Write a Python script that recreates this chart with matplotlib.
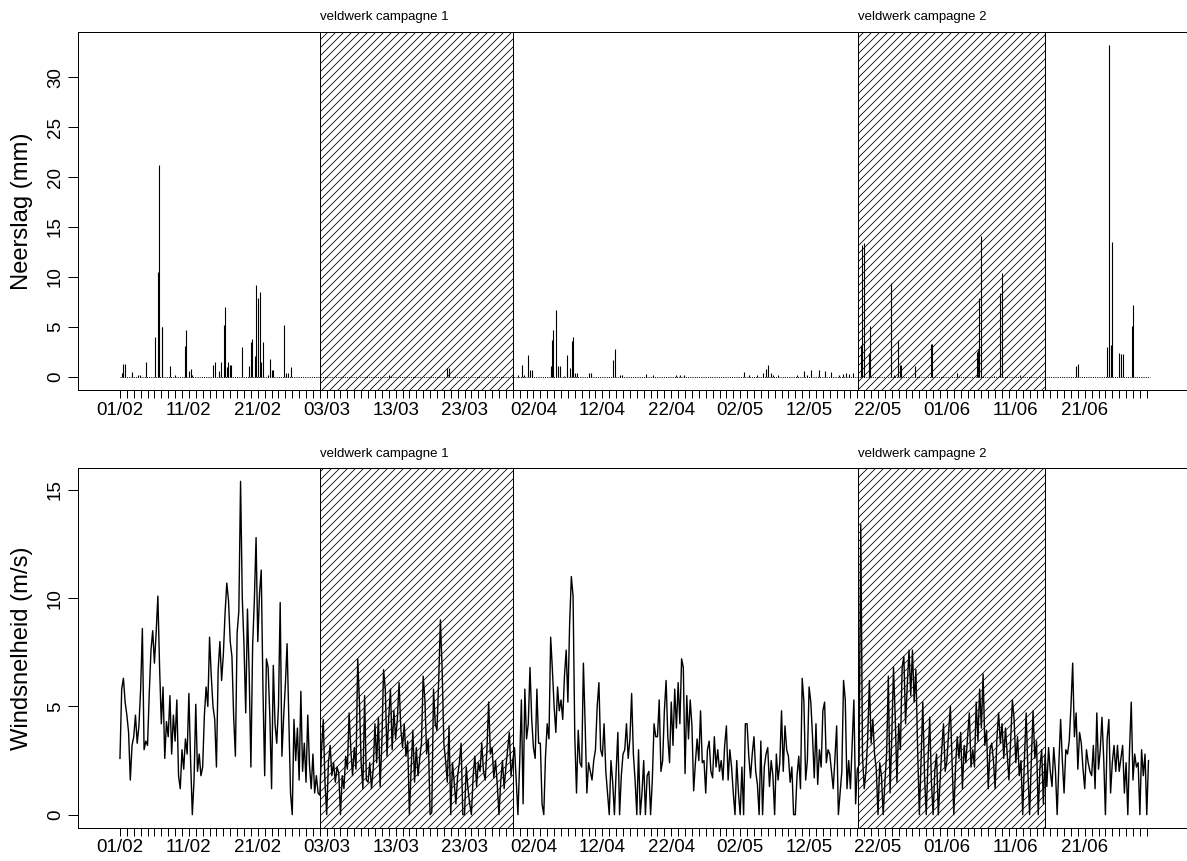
import numpy as np
import matplotlib
matplotlib.use('Agg')
import matplotlib.pyplot as plt
from matplotlib.transforms import blended_transform_factory

# =============================
# DATA (dag 0 = 01/02)
# =============================
tick_labels = ["01/02", "11/02", "21/02", "03/03", "13/03", "23/03", "02/04",
               "12/04", "22/04", "02/05", "12/05", "22/05", "01/06", "11/06", "21/06"]
tick_label_dag = [0, 10, 20, 30, 40, 50, 60, 70, 80, 90, 100, 110, 120, 130, 140]
laatste_dag = 149

campagnes = ["veldwerk campagne 1", "veldwerk campagne 2"]
campagne_start = [29.0, 107.1]
campagne_eind = [57.0, 134.2]

# neerslag (mm): tijdstip in dagen en hoeveelheid
neerslag_dag = [
    0.24, 0.44, 0.73, 1.74, 2.66, 2.91, 3.78, 5.14, 5.52, 5.67, 6.06, 6.15, 7.27, 7.99,
    9.49, 9.64, 9.98, 10.27, 10.51, 13.47, 13.81, 14.34, 14.73, 15.07, 15.21, 15.50, 15.70, 16.03, 16.18,
    17.78, 18.70, 19.00, 19.14, 19.53, 19.67, 19.96, 20.25, 20.44, 20.78, 21.41, 21.75, 22.04, 22.24, 23.79, 24.03, 24.32, 24.81,
    39.1, 47.5, 47.7, 57.8, 58.3, 58.7, 59.2, 59.5, 59.8, 62.5, 62.7, 62.9, 63.3, 63.6, 63.9,
    64.4, 64.8, 64.9, 65.3, 65.6, 65.8, 66.1, 66.3, 68.1, 68.3, 71.6, 71.9, 72.6, 72.8,
    76.3, 77.4, 80.7, 81.2, 81.9, 90.5, 91.3, 92.4, 93.3, 93.7, 94.0, 94.4, 94.8, 95.5,
    98.2, 99.3, 99.7, 100.3, 101.4, 102.3, 103.2, 104.4, 104.9, 105.4, 105.8, 106.3,
    107.5, 107.7, 107.9, 108.7, 108.9, 111.9, 112.3, 112.9, 113.2, 113.4, 115.4, 117.7, 117.9,
    121.5, 124.3, 124.5, 124.7, 125.0, 126.9, 127.7, 128.0, 130.6,
    138.7, 139.0, 143.3, 143.5, 143.8, 144.0, 145.0, 145.3, 145.5, 146.8, 147.0,
]
neerslag_mm = [
    0.4, 1.3, 1.3, 0.5, 0.2, 0.15, 1.5, 4.0, 10.5, 21.2, 5.0, 5.0, 1.1, 0.15,
    3.1, 4.7, 0.6, 0.8, 0.2, 1.2, 1.5, 0.6, 1.5, 5.2, 7.0, 1.0, 1.5, 1.2, 1.2,
    3.0, 1.1, 3.5, 3.8, 2.1, 9.2, 7.9, 8.5, 1.5, 3.5, 0.2, 1.8, 0.7, 0.7, 5.2, 0.4, 0.4, 1.0,
    0.2, 0.9, 0.9, 0.2, 1.2, 0.2, 2.2, 0.7, 0.7, 1.1, 3.7, 4.7, 6.7, 1.1, 1.1,
    0.1, 2.2, 0.5, 0.9, 3.6, 4.0, 0.4, 0.4, 0.4, 0.4, 1.7, 2.8, 0.15, 0.15,
    0.3, 0.2, 0.15, 0.15, 0.2, 0.5, 0.2, 0.2, 0.4, 0.8, 1.2, 0.4, 0.2, 0.2,
    0.2, 0.6, 0.2, 0.7, 0.7, 0.6, 0.5, 0.2, 0.3, 0.4, 0.3, 0.4,
    3.2, 13.2, 13.4, 2.4, 5.1, 9.4, 0.2, 3.7, 1.2, 1.2, 1.1, 3.3, 3.3,
    0.4, 2.5, 2.7, 7.9, 14.1, 0.1, 8.4, 10.4, 0.2,
    1.1, 1.3, 3.0, 33.2, 3.2, 13.5, 2.4, 2.3, 2.3, 5.1, 7.2,
]

# windsnelheid (m/s), 4 waarden per dag (elke 6 uur)
windsnelheid = [
    2.6, 5.8, 6.3, 5.2,  4.6, 3.8, 1.6, 3.2,  3.6, 4.6, 3.3, 4.1,  5.8, 8.6, 3.0, 3.4,  3.2, 5.6, 7.6, 8.5,
    7.0, 8.4, 10.1, 6.8,  4.2, 5.9, 2.6, 4.3,  3.6, 5.5, 2.8, 4.6,  3.4, 5.3, 1.8, 1.2,  3.0, 2.1, 3.5, 2.8,
    5.6, 2.5, 0.0, 1.6,  5.1, 2.0, 2.8, 1.8,  2.2, 4.6, 5.9, 5.0,  8.2, 6.4, 5.0, 4.4,  2.2, 6.7, 8.0, 6.2,
    7.4, 9.3, 10.7, 9.9,  8.0, 7.3, 4.5, 2.7,  8.4, 9.4, 15.4, 10.0,  7.8, 4.7, 9.5, 6.5,  2.2, 7.8, 9.9, 12.8,
    8.0, 10.2, 11.3, 5.8,  1.8, 7.2, 6.8, 4.5,  1.2, 6.9, 4.2, 3.3,  5.0, 9.8, 2.7, 4.5,  6.0, 7.9, 4.5, 1.0,
    0.0, 4.4, 2.5, 4.0,  1.6, 5.7, 2.0, 3.3,  1.5, 4.6, 2.3, 1.2,  2.8, 1.0, 1.8, 1.0,  0.9, 3.0, 4.4, 1.5,
    0.0, 2.4, 3.2, 1.8,  2.4, 1.5, 2.2, 1.9,  0.0, 1.8, 1.2, 2.7,  2.1, 4.7, 3.0, 1.8,  3.1, 2.1, 7.2, 5.2,
    2.4, 1.2, 5.5, 1.6,  1.5, 2.4, 1.2, 2.1,  4.2, 2.4, 4.5, 1.3,  3.3, 6.7, 5.8, 2.7,  4.5, 5.8, 3.0, 4.8,
    3.5, 4.4, 6.1, 4.0,  3.1, 4.2, 2.7, 3.4,  0.0, 2.1, 3.9, 1.5,  3.1, 1.8, 2.6, 3.3,  6.4, 5.3, 2.8, 3.5,
    0.0, 0.1, 5.8, 4.2,  3.9, 6.2, 9.0, 6.7,  3.3, 2.5, 1.5, 4.1,  0.0, 2.4, 1.5, 0.5,  1.8, 2.4, 3.3, 0.0,
    0.0, 2.2, 1.2, 0.5,  0.0, 1.8, 2.7, 1.3,  2.4, 2.0, 3.3, 2.0,  1.6, 3.0, 5.2, 2.8,  3.1, 1.7, 2.5, 1.4,
    0.0, 1.5, 2.5, 1.2,  2.2, 3.0, 3.8, 1.8,  2.5, 3.1, 1.6, 0.0,  2.4, 5.3, 0.5, 5.8,  3.5, 4.2, 6.8, 4.4,
    3.1, 2.6, 5.8, 3.3,  3.3, 0.5, 0.0, 2.7,  4.2, 3.5, 8.2, 6.7,  5.0, 3.8, 5.9, 4.8,  5.3, 4.4, 6.4, 7.6,
    5.2, 8.8, 11.0, 10.1,  3.6, 1.0, 3.9, 2.4,  2.2, 7.0, 4.2, 1.0,  2.4, 2.0, 1.6, 2.5,  3.0, 5.0, 6.1, 3.0,
    2.7, 4.2, 2.0, 1.0,  0.0, 2.5, 1.5, 0.0,  2.0, 3.8, 0.0, 1.8,  2.8, 3.0, 4.2, 2.6,  3.5, 5.6, 2.8, 1.6,
    0.0, 3.0, 0.0, 1.0,  2.5, 0.0, 1.8, 2.0,  0.0, 1.6, 4.2, 3.6,  3.6, 5.3, 2.0, 2.5,  4.8, 6.2, 3.6, 2.4,
    5.2, 3.2, 5.8, 4.0,  6.1, 4.2, 7.2, 6.8,  1.9, 5.5, 3.5, 5.3,  4.1, 1.1, 2.4, 3.5,  2.5, 4.8, 2.4, 2.5,
    1.0, 3.0, 3.4, 2.0,  1.7, 3.6, 2.2, 3.0,  2.0, 2.5, 1.6, 3.2,  4.1, 1.6, 3.0, 2.2,  1.0, 0.0, 2.5, 1.0,
    0.0, 2.2, 0.0, 4.2,  4.2, 2.7, 1.7, 2.8,  3.6, 2.0, 1.4, 0.0,  3.4, 0.0, 2.2, 2.8,  3.1, 1.3, 2.5, 1.8,
    0.0, 2.8, 1.6, 2.4,  4.8, 2.0, 4.1, 3.0,  2.7, 1.5, 2.2, 0.0,  0.0, 1.8, 2.7, 1.2,  6.3, 5.2, 1.6, 2.5,
    5.9, 5.2, 3.6, 1.7,  4.2, 1.4, 3.0, 2.2,  4.8, 5.2, 2.4, 3.0,  2.8, 2.0, 1.2, 2.6,  4.1, 0.0, 1.0, 2.0,
    6.2, 5.3, 1.2, 2.5,  1.2, 3.3, 5.3, 0.5,  2.1, 2.3, 13.4, 2.7,  1.2, 2.0, 3.5, 6.2,  3.3, 4.4, 2.8, 2.1,
    0.0, 2.4, 1.8, 0.0,  1.5, 2.8, 6.4, 1.0,  3.6, 6.8, 4.5, 1.5,  4.2, 3.0, 6.8, 7.3,  4.2, 6.0, 7.6, 5.5,
    7.6, 5.2, 6.7, 3.0,  0.0, 2.5, 5.2, 1.8,  0.0, 2.4, 4.5, 1.5,  0.0, 2.1, 2.8, 0.0,  1.5, 3.0, 4.2, 2.0,
    2.5, 3.8, 5.0, 2.4,  0.0, 2.2, 3.6, 2.6,  3.8, 1.2, 3.2, 2.4,  3.6, 4.7, 2.2, 3.0,  2.2, 5.2, 3.4, 5.8,
    4.0, 6.5, 3.2, 3.9,  1.2, 3.0, 3.3, 2.5,  1.2, 3.5, 4.7, 3.3,  4.2, 2.6, 4.0, 2.8,  1.6, 3.5, 5.3, 4.4,
    2.4, 3.6, 1.8, 2.5,  0.0, 2.6, 4.7, 2.0,  0.0, 2.5, 4.8, 2.6,  3.4, 0.0, 2.2, 3.0,  0.5, 2.8, 1.3, 3.1,
    2.0, 1.3, 3.1, 2.0,  0.0, 2.4, 4.4, 2.5,  1.0, 3.0, 2.8, 3.4,  5.0, 7.0, 3.6, 4.7,  2.1, 3.8, 3.3, 2.1,
    1.2, 3.0, 2.4, 2.0,  1.8, 3.2, 1.2, 4.7,  2.1, 3.0, 4.5, 2.6,  0.0, 3.5, 4.4, 1.0,  2.4, 3.2, 2.0, 3.2,
    2.0, 2.6, 3.2, 1.0,  2.4, 0.0, 3.0, 5.2,  1.6, 2.8, 2.2, 2.4,  0.0, 3.0, 1.8, 2.8,  0.0, 2.5,
]

# =============================
# FIGUUR
# =============================
plt.rcParams['font.family'] = ['Liberation Sans', 'DejaVu Sans']
plt.rcParams['hatch.linewidth'] = 0.8

W, H = 1187, 861
fig = plt.figure(figsize=(W / 72, H / 72), dpi=72, facecolor='white')
links, rechts = 78, 1195
ax1 = fig.add_axes([links / W, 1 - 390 / H, (rechts - links) / W, 358 / H])
ax2 = fig.add_axes([links / W, 1 - 828 / H, (rechts - links) / W, 360 / H])


def r_ylim(vals):
    lo, hi = min(vals), max(vals)
    r = hi - lo
    return lo - 0.04 * r, hi + 0.04 * r


def opmaak(ax, ylabel, yticks, label_offset):
    ax.set_xlim(-6.09, 156)
    for naam, a, b in zip(campagnes, campagne_start, campagne_eind):
        ax.axvspan(a, b, facecolor='none', edgecolor='black', hatch='///', lw=1.0, zorder=1)
        trans = blended_transform_factory(ax.transData, ax.transAxes)
        ax.annotate(naam, xy=(a, 1), xycoords=trans, xytext=(0, label_offset),
                    textcoords='offset points', ha='left', va='center', fontsize=13.3)
    dagen = np.arange(0, laatste_dag + 1)
    labels = [''] * len(dagen)
    for d, lab in zip(tick_label_dag, tick_labels):
        labels[d] = lab
    ax.set_xticks(dagen)
    ax.set_xticklabels(labels)
    ax.tick_params(axis='x', length=7.5, width=1, labelsize=18.7, pad=4)
    ax.set_yticks(yticks)
    ax.tick_params(axis='y', length=10, width=1, labelsize=18.7, pad=4, labelrotation=90)
    for lab in ax.get_yticklabels():
        lab.set_va('center')
    ax.set_ylabel(ylabel, fontsize=23.7, va='center')
    ax.yaxis.set_label_coords(-56 / (rechts - links), 0.5)
    for s in ax.spines.values():
        s.set_linewidth(1.0)


# neerslag
ax1.vlines(neerslag_dag, 0, neerslag_mm, color='black', lw=1.1, zorder=3)
ax1.plot([0, laatste_dag + 0.5], [0, 0], color='black', lw=1.0, ls=(0, (1, 1.2)), zorder=3)
ax1.set_ylim(*r_ylim([0] + neerslag_mm))
opmaak(ax1, "Neerslag (mm)", [0, 5, 10, 15, 20, 25, 30], 15)

# windsnelheid
t = np.arange(len(windsnelheid)) / 4
ax2.plot(t, windsnelheid, color='black', lw=1.4, zorder=3)
ax2.set_ylim(*r_ylim(windsnelheid))
opmaak(ax2, "Windsnelheid (m/s)", [0, 5, 10, 15], 14)

fig.savefig("out.png", dpi=72, facecolor='white')
